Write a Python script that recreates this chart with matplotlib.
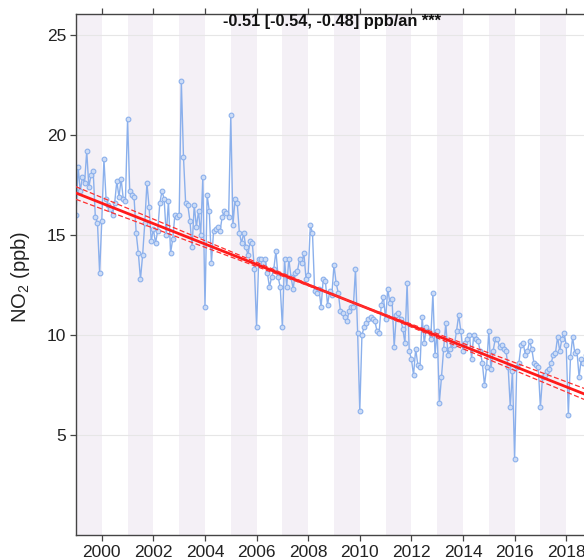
import numpy as np
import matplotlib
matplotlib.use("Agg")
import matplotlib.pyplot as plt

plt.rcParams['font.family'] = ['Liberation Sans', 'DejaVu Sans']
plt.rcParams['mathtext.default'] = 'regular'

# monthly mean NO2 (ppb), Jan 1999 -> Dec 2018
start_year = 1999
no2 = [
    16.0, 18.4, 17.2, 17.9, 17.6, 19.2, 17.4, 18.0, 18.2, 15.9, 15.6, 13.1,  # 1999
    15.7, 18.8, 16.8, 16.5, 16.3, 16.0, 16.6, 17.7, 16.9, 17.8, 16.8, 16.7,  # 2000
    20.8, 17.2, 17.0, 16.9, 15.1, 14.1, 12.8, 14.0, 15.6, 17.6, 16.4, 14.7,  # 2001
    15.3, 14.6, 15.2, 16.6, 17.2, 16.8, 15.0, 16.7, 14.1, 14.8, 16.0, 15.9,  # 2002
    16.0, 22.7, 18.9, 16.6, 16.5, 15.7, 14.4, 16.5, 15.4, 16.2, 15.0, 17.9,  # 2003
    11.4, 17.0, 16.2, 13.6, 15.2, 15.3, 15.4, 15.2, 15.9, 16.2, 16.1, 15.9,  # 2004
    21.0, 15.5, 16.8, 16.6, 15.1, 14.6, 15.1, 14.4, 14.0, 14.7, 14.6, 13.3,  # 2005
    10.4, 13.8, 13.8, 13.6, 13.8, 13.1, 12.4, 12.9, 13.3, 14.2, 12.9, 12.4,  # 2006
    10.4, 13.8, 12.4, 13.8, 12.9, 12.3, 13.1, 13.2, 13.8, 13.6, 14.1, 12.8,  # 2007
    13.0, 15.5, 15.1, 12.2, 12.1, 12.3, 11.4, 12.8, 12.7, 11.5, 12.2, 12.0,  # 2008
    13.5, 12.6, 12.1, 11.2, 11.1, 10.9, 10.7, 11.2, 11.4, 11.4, 13.3, 10.1,  # 2009
    6.2, 10.0, 10.4, 10.6, 10.8, 10.9, 10.8, 10.7, 10.2, 10.1, 11.5, 11.9,   # 2010
    10.8, 12.3, 11.6, 11.8, 9.4, 11.0, 11.1, 10.8, 10.3, 9.6, 12.6, 9.2,     # 2011
    8.8, 8.0, 9.3, 8.5, 8.4, 10.9, 9.6, 10.4, 10.2, 9.8, 12.1, 9.0,          # 2012
    10.2, 6.6, 7.9, 9.3, 10.6, 9.0, 9.3, 9.6, 9.5, 10.2, 11.0, 10.2,         # 2013
    9.2, 9.6, 9.8, 10.0, 8.8, 10.0, 9.8, 9.7, 9.2, 8.6, 7.5, 8.4,            # 2014
    10.2, 8.3, 9.2, 9.8, 9.8, 9.4, 9.5, 9.3, 9.2, 8.4, 6.4, 8.2,             # 2015
    3.8, 8.4, 8.6, 9.5, 9.6, 9.0, 9.2, 9.7, 9.3, 8.6, 8.5, 8.4,              # 2016
    6.4, 7.9, 8.0, 8.2, 8.3, 8.6, 9.0, 9.1, 9.9, 9.2, 9.8, 10.1,             # 2017
    9.5, 6.0, 8.9, 9.9, 9.1, 9.2, 7.9, 8.8, 8.6, 9.0, 9.4, 8.8,              # 2018
]

# Theil-Sen trend: slope and 95% interval (ppb/yr)
slope, slope_lo, slope_hi = -0.51, -0.54, -0.48
trend_at_start = 17.1
pivot_year = 2009.5

years = start_year + np.arange(len(no2)) / 12.0

fig = plt.figure(figsize=(5.84, 5.6), dpi=100)
ax = fig.add_axes([0.1301, 0.0446, 0.888, 0.9304])

# alternating year shading
for y in range(1999, 2020, 2):
    ax.axvspan(y, y + 1, color='#f4f0f6', lw=0, zorder=0)

ax.set_xlim(1999, 2019.1)
ax.set_ylim(0, 26.05)
ax.set_yticks([5, 10, 15, 20, 25])
ax.set_xticks(np.arange(2000, 2019, 2))
ax.yaxis.grid(True, color='#e6e6e6', lw=0.8, zorder=0.5)
ax.set_axisbelow(True)

ax.plot(years, no2, color='#8bb0ec', lw=1.0, marker='o', ms=3.4,
        mfc='#cddcf6', mec='#8bb0ec', mew=0.8, zorder=2)

# trend line and its interval
xt = np.array([1999, 2019.1])
pivot_val = trend_at_start + slope * (pivot_year - 1999)
ax.plot(xt, pivot_val + slope * (xt - pivot_year), color='#ff1a1a', lw=2.0, zorder=3)
ax.plot(xt, pivot_val + slope_lo * (xt - pivot_year), color='#ff3030', lw=0.9,
        ls=(0, (4, 2)), zorder=3)
ax.plot(xt, pivot_val + slope_hi * (xt - pivot_year), color='#ff3030', lw=0.9,
        ls=(0, (4, 2)), zorder=3)

ax.text(0.4936, 0.986, '-0.51 [-0.54, -0.48] ppb/an ***', transform=ax.transAxes,
        ha='center', va='center', fontsize=11.8, fontweight='bold', color='#111111')

for side in ['left', 'bottom', 'top', 'right']:
    ax.spines[side].set_color('#444444')
    ax.spines[side].set_linewidth(1.0)
ax.tick_params(axis='both', direction='out', length=4, width=0.9, color='#444444',
               labelsize=12.5, labelcolor='#222222', pad=3)
ax.tick_params(axis='x', top=True, labeltop=False)

fig.text(21 / 584, 1 - 277 / 560, 'NO$_2$ (ppb)', rotation=90, ha='center', va='center',
         fontsize=14.5, color='#222222')

fig.savefig('out.png', dpi=100)
